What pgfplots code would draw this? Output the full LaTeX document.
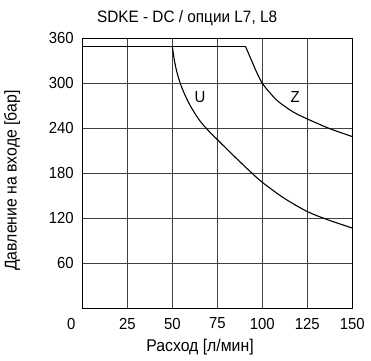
\documentclass[border=0pt]{standalone}
\usepackage{fontspec}
\setmainfont[FakeStretch=0.93]{Liberation Sans}
\usepackage{pgfplots}
\pgfplotsset{compat=1.18}
\begin{document}
\begin{tikzpicture}
\useasboundingbox (-82.3pt,-51.7pt) rectangle (288.7pt,308.3pt);
\begin{axis}[
  at={(0,0)}, anchor=south west,
  scale only axis, width=270pt, height=270pt,
  xmin=0, xmax=150, ymin=0, ymax=360,
  xtick={25,50,75,100,125,150},
  extra x ticks={0},
  extra x tick style={xticklabel style={xshift=-11pt}, grid=none},
  ytick={60,120,180,240,300,360},
  major tick length=0pt,
  grid=major,
  major grid style={black!75, line width=0.7pt},
  axis line style={black, line width=0.9pt},
  font=\fontsize{16}{19}\selectfont,
  ticklabel style={font=\fontsize{16}{19}\selectfont},
  yticklabel style={xshift=-5pt},
  xticklabel style={yshift=-6pt},
  /pgf/number format/assume math mode=true,
  xlabel={Расход [л/мин]},
  ylabel={Давление на входе [бар]},
  title={SDKE - DC / опции L7, L8},
  every axis x label/.style={at={(axis description cs:0.436,-0.143)}, anchor=center, font=\fontsize{17}{20}\selectfont},
  every axis y label/.style={at={(axis description cs:-0.26,0.473)}, anchor=center, rotate=90, font=\fontsize{17}{20}\selectfont},
  every axis title/.style={at={(axis description cs:0.388,1.076)}, anchor=center, font=\fontsize{16.5}{19}\selectfont},
  clip=false,
]
\addplot[black, line width=1.1pt] coordinates {(0,349) (90.7,349)};
\addplot[black, line width=1.1pt, smooth, tension=0.5] coordinates {
(50,349) (51,333) (52,320.5) (53,311) (55,296) (57.5,282) (60,270) (65,251) (70,237)
(75,225) (83,206) (93,183) (100,168) (112,147) (125,129) (137,117.5) (150,107)};
\addplot[black, line width=1.1pt, smooth, tension=0.5] coordinates {
(90.7,349) (92.3,340) (94.1,330) (97,314) (100,300) (104.7,286) (109,275.5)
(117,262) (125,252.5) (137.5,239.5) (150,229)};
\node at (axis cs:65.4,282) {U};
\node at (axis cs:118.2,282) {Z};
\end{axis}
\end{tikzpicture}
\end{document}
